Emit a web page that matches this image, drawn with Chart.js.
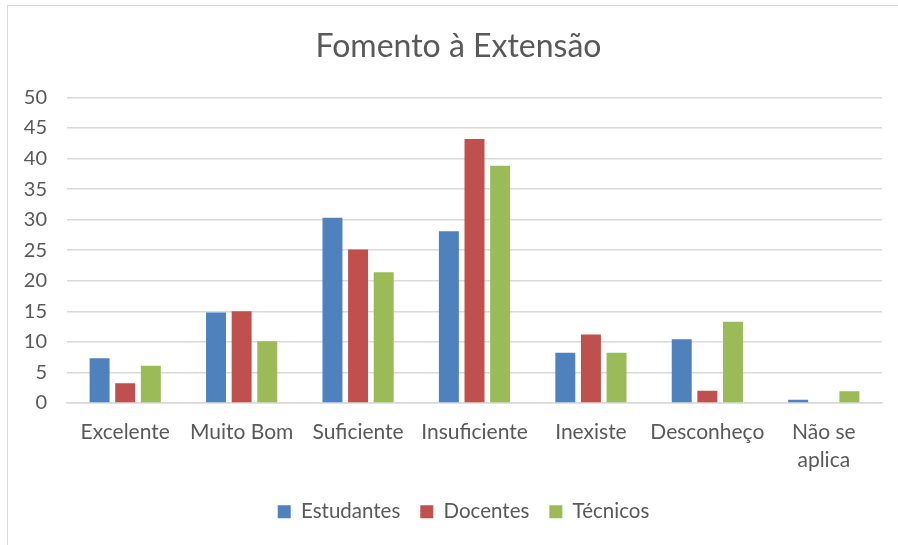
<!DOCTYPE html>
<html>
<head>
<meta charset="utf-8">
<script src="https://cdn.jsdelivr.net/npm/chart.js@4"></script>
<style>
  html, body { margin: 0; padding: 0; background: #fff; }
  #wrap { position: absolute; left: 0; top: 0; width: 898px; height: 545px; }
  #frame { position: absolute; left: 7px; top: 5px; width: 900px; height: 600px;
           border-left: 1px solid #d9d9d9; border-top: 1px solid #d9d9d9; pointer-events: none; }
</style>
</head>
<body>
<div id="wrap">
  <canvas id="chart" width="898" height="545"></canvas>
  <div id="frame"></div>
</div>
<script>
var categories = ['Excelente', 'Muito Bom', 'Suficiente', 'Insuficiente', 'Inexiste', 'Desconheço', ['Não se', 'aplica']];
var estudantes = [7.3, 14.8, 30.3, 28.1, 8.2, 10.4, 0.5];
var docentes = [3.2, 15.0, 25.1, 43.2, 11.2, 2.0, 0];
var tecnicos = [6.1, 10.1, 21.4, 38.8, 8.2, 13.3, 1.9];
var yTicks = [0, 5, 10, 15, 20, 25, 30, 35, 40, 45, 50];

var textColor = '#595959';
var fontFamily = 'Lato, "Open Sans", sans-serif';

// title and legend in the original sit a bit right of the canvas centre
var shiftBoxes = {
    id: 'shiftBoxes',
    afterLayout: function (chart) {
        chart.titleBlock.left += 14;
        chart.titleBlock.right += 14;
        chart.legend.left += 19;
        chart.legend.right += 19;
    }
};

var ctx = document.getElementById('chart').getContext('2d');

new Chart(ctx, {
    type: 'bar',
    data: {
        labels: categories,
        datasets: [
            { label: 'Estudantes', data: estudantes, backgroundColor: '#4F81BD' },
            { label: 'Docentes', data: docentes, backgroundColor: '#C0504D' },
            { label: 'Técnicos', data: tecnicos, backgroundColor: '#9BBB59' }
        ]
    },
    plugins: [shiftBoxes],
    options: {
        responsive: false,
        animation: false,
        layout: { padding: { left: 7, right: 16, top: 5, bottom: 13 } },
        datasets: {
            bar: { categoryPercentage: 0.66, barPercentage: 0.78 }
        },
        plugins: {
            title: {
                display: true,
                text: 'Fomento à Extensão',
                color: textColor,
                font: { family: fontFamily, size: 32, weight: 'normal' },
                padding: { top: 22, bottom: 32 }
            },
            legend: {
                position: 'bottom',
                labels: {
                    color: textColor,
                    font: { family: fontFamily, size: 20.5 },
                    boxWidth: 13,
                    boxHeight: 13,
                    padding: 20
                }
            },
            tooltip: { enabled: false }
        },
        scales: {
            x: {
                grid: { display: false },
                border: { color: '#d9d9d9', width: 1.5 },
                ticks: {
                    color: textColor,
                    font: { family: fontFamily, size: 21, lineHeight: 1.3 },
                    maxRotation: 0,
                    autoSkip: false,
                    padding: 8
                }
            },
            y: {
                min: 0,
                max: 50,
                afterBuildTicks: function (scale) {
                    scale.ticks = yTicks.map(function (v) { return { value: v }; });
                },
                afterFit: function (scale) { scale.width = 60; },
                grid: { color: '#d9d9d9', lineWidth: 1.5, drawTicks: false },
                border: { display: false },
                ticks: {
                    color: textColor,
                    font: { family: fontFamily, size: 20 },
                    padding: 20
                }
            }
        }
    }
});
</script>
</body>
</html>
